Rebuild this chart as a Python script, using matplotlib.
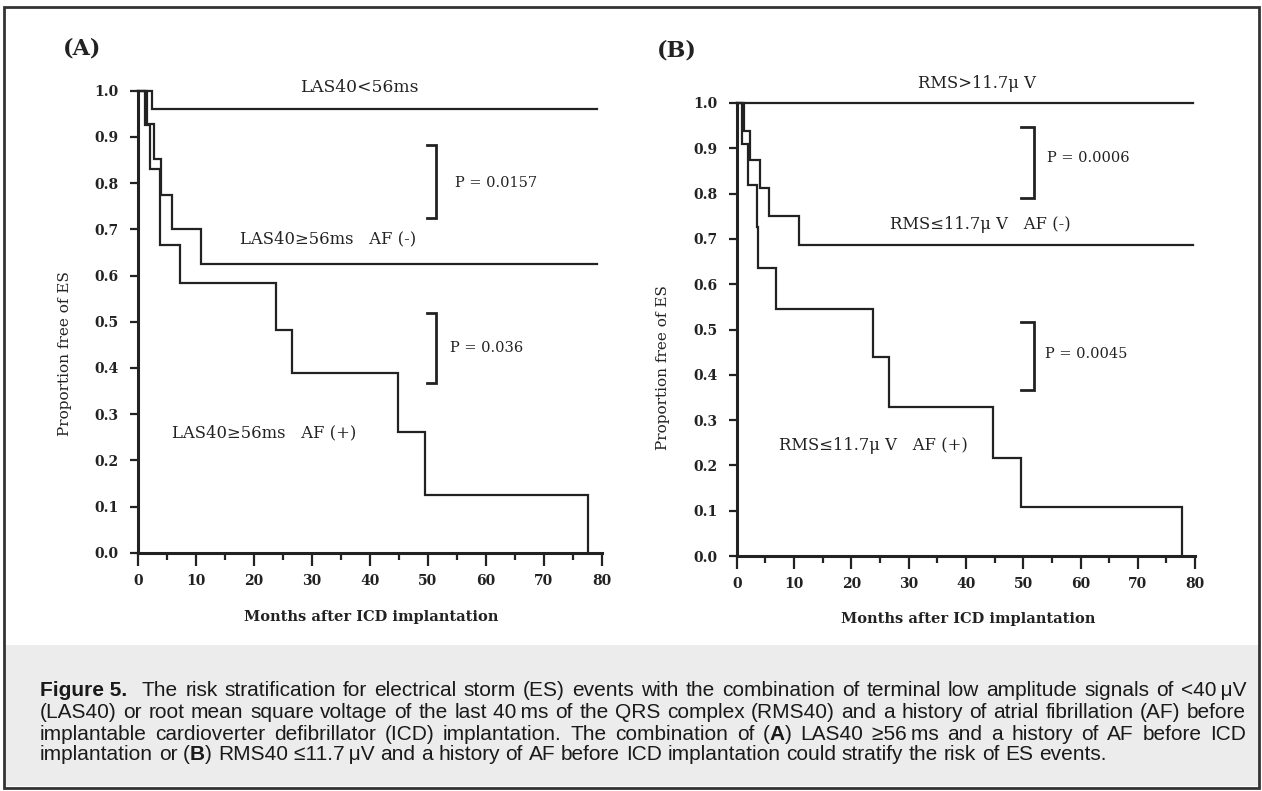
import matplotlib
matplotlib.use("Agg")
import matplotlib.pyplot as plt
from matplotlib.ticker import MultipleLocator
from matplotlib.patches import Rectangle

# ---------------- data ----------------
months_ticks = [0, 10, 20, 30, 40, 50, 60, 70, 80]
prop_ticks = [0.0, 0.1, 0.2, 0.3, 0.4, 0.5, 0.6, 0.7, 0.8, 0.9, 1.0]

# Panel A
a_low_t = [0, 2.3, 79.3]
a_low_s = [1.0, 0.96, 0.96]
a_afneg_t = [0, 1.5, 2.7, 4.0, 5.8, 10.9, 79.3]
a_afneg_s = [1.0, 0.928, 0.852, 0.775, 0.700, 0.625, 0.625]
a_afpos_t = [0, 1.15, 2.0, 3.75, 7.2, 23.7, 26.6, 44.8, 49.6, 77.6, 77.6]
a_afpos_s = [1.0, 0.925, 0.83, 0.665, 0.583, 0.483, 0.389, 0.262, 0.124, 0.0, 0.0]

# Panel B
b_high_t = [0, 79.6]
b_high_s = [1.0, 1.0]
b_afneg_t = [0, 1.2, 2.3, 4.0, 5.7, 10.9, 79.6]
b_afneg_s = [1.0, 0.9375, 0.875, 0.8125, 0.75, 0.6875, 0.6875]
b_afpos_t = [0, 0.9, 2.0, 3.5, 3.8, 6.9, 23.7, 26.5, 44.8, 49.6, 77.8, 77.8]
b_afpos_s = [1.0, 0.909, 0.818, 0.727, 0.636, 0.545, 0.439, 0.33, 0.216, 0.109, 0.0, 0.0]

a_pvalues = ["P = 0.0157", "P = 0.036"]
b_pvalues = ["P = 0.0006", "P = 0.0045"]
a_labels = ["LAS40<56ms", "LAS40\u226556ms   AF (-)", "LAS40\u226556ms   AF (+)"]
b_labels = ["RMS>11.7\u03bc V", "RMS\u226411.7\u03bc V   AF (-)", "RMS\u226411.7\u03bc V   AF (+)"]

# ---------------- figure ----------------
W, H = 1262, 791
fig = plt.figure(figsize=(W / 100, H / 100), dpi=100)
fig.patch.set_facecolor("white")

INK = "#222222"
SERIF = ["DejaVu Serif"]


def px(x, y):
    return x / W, 1 - y / H


# caption background and frame
fig.patches.append(Rectangle(px(4, 786), (1255) / W, (786 - 645) / H,
                             transform=fig.transFigure, facecolor="#ececec",
                             edgecolor="none", zorder=0))
fig.patches.append(Rectangle(px(4, 788), (1255) / W, (788 - 7) / H,
                             transform=fig.transFigure, facecolor="none",
                             edgecolor="#333333", lw=2.0, zorder=5))

axA = fig.add_axes([138.3 / W, (H - 552.7) / H, 463.2 / W, 462.0 / H])
axB = fig.add_axes([736.7 / W, (H - 556.0) / H, 458.4 / W, 453.0 / H])


def style_axes(ax):
    ax.set_xlim(0, 80)
    ax.set_ylim(0, 1.0)
    for s in ["top", "right"]:
        ax.spines[s].set_visible(False)
    for s in ["left", "bottom"]:
        ax.spines[s].set_linewidth(2.2)
        ax.spines[s].set_color(INK)
    ax.set_xticks(months_ticks)
    ax.set_xticklabels([str(m) for m in months_ticks])
    ax.xaxis.set_minor_locator(MultipleLocator(5))
    ax.set_yticks(prop_ticks)
    ax.set_yticklabels(["%.1f" % p for p in prop_ticks])
    ax.tick_params(axis="y", which="major", direction="out", length=6,
                   width=1.6, pad=8, color=INK)
    ax.tick_params(axis="x", which="major", direction="out", length=9,
                   width=1.6, pad=6, color=INK)
    ax.tick_params(axis="x", which="minor", direction="out", length=5,
                   width=1.6, color=INK)
    for lab in ax.get_xticklabels() + ax.get_yticklabels():
        lab.set_fontfamily(SERIF)
        lab.set_fontweight("bold")
        lab.set_fontsize(10)
        lab.set_color(INK)
    ax.patch.set_alpha(0)


style_axes(axA)
style_axes(axB)

LW = 1.6
for ax, curves in [
    (axA, [(a_low_t, a_low_s), (a_afneg_t, a_afneg_s), (a_afpos_t, a_afpos_s)]),
    (axB, [(b_high_t, b_high_s), (b_afneg_t, b_afneg_s), (b_afpos_t, b_afpos_s)]),
]:
    for t, s in curves:
        ax.step(t, s, where="post", color=INK, lw=LW, clip_on=False,
                solid_joinstyle="miter")


def bracket(ax, x, y0, y1, tick):
    ax.plot([x - tick, x, x, x - tick], [y1, y1, y0, y0], color=INK, lw=2.0,
            clip_on=False, solid_joinstyle="miter")


LBL = 11.8
# Panel A annotations
axA.text(27.9, 1.006, a_labels[0], fontfamily=SERIF, fontsize=12.3, color=INK,
         ha="left", va="center")
axA.text(17.6, 0.68, a_labels[1], fontfamily=SERIF, fontsize=LBL, color=INK,
         ha="left", va="center")
axA.text(5.8, 0.26, a_labels[2], fontfamily=SERIF, fontsize=LBL, color=INK,
         ha="left", va="center")
bracket(axA, 51.5, 0.724, 0.883, 1.7)
bracket(axA, 51.5, 0.367, 0.518, 1.7)
axA.text(54.7, 0.80, a_pvalues[0], fontfamily=SERIF, fontsize=10.5, color=INK,
         ha="left", va="center")
axA.text(53.8, 0.444, a_pvalues[1], fontfamily=SERIF, fontsize=10.5, color=INK,
         ha="left", va="center")

# Panel B annotations
axB.text(31.7, 1.042, b_labels[0], fontfamily=SERIF, fontsize=LBL, color=INK,
         ha="left", va="center")
axB.text(26.8, 0.731, b_labels[1], fontfamily=SERIF, fontsize=LBL, color=INK,
         ha="left", va="center")
axB.text(7.4, 0.245, b_labels[2], fontfamily=SERIF, fontsize=LBL, color=INK,
         ha="left", va="center")
bracket(axB, 51.8, 0.791, 0.948, 2.1)
bracket(axB, 51.8, 0.366, 0.517, 2.1)
axB.text(54.1, 0.878, b_pvalues[0], fontfamily=SERIF, fontsize=10.5, color=INK,
         ha="left", va="center")
axB.text(53.8, 0.446, b_pvalues[1], fontfamily=SERIF, fontsize=10.5, color=INK,
         ha="left", va="center")

# axis labels
for (x, y) in [(65, 354), (663, 368)]:
    fig.text(*px(x, y), "Proportion free of ES", rotation=90, fontfamily=SERIF,
             fontsize=11, color=INK, ha="center", va="center")
for (x, y) in [(371, 617), (968, 619)]:
    fig.text(*px(x, y), "Months after ICD implantation", fontfamily=SERIF,
             fontweight="bold", fontsize=10.5, color=INK, ha="center",
             va="center")

# panel letters
fig.text(*px(82, 48), "(A)", fontfamily=SERIF, fontweight="bold", fontsize=16,
         color=INK, ha="center", va="center")
fig.text(*px(677, 50), "(B)", fontfamily=SERIF, fontweight="bold", fontsize=16,
         color=INK, ha="center", va="center")

# ---------------- caption (justified) ----------------
CAP_FONT = ["Liberation Sans"]
CAP_BOLD_FONT = ["Liberation Sans Narrow", "Liberation Sans"]
CAP_SIZE = 15
CAP_COLOR = "#1a1a1a"
cap_lines = [
    (142, [("The risk stratification for electrical storm (ES) events with the combination of terminal low amplitude signals of <40\u2009\u03bcV", "normal")], True),
    (40, [("(LAS40) or root mean square voltage of the last 40\u2009ms of the QRS complex (RMS40) and a history of atrial fibrillation (AF) before", "normal")], True),
    (40, [("implantable cardioverter defibrillator (ICD) implantation. The combination of (", "normal"), ("A", "bold"), (") LAS40 \u226556\u2009ms and a history of AF before ICD", "normal")], True),
    (40, [("implantation or (", "normal"), ("B", "bold"), (") RMS40 \u226411.7\u2009\u03bcV and a history of AF before ICD implantation could stratify the risk of ES events.", "normal")], False),
]
cap_x1 = 1246
cap_y = [690, 712, 734, 755]

fig.text(*px(40, cap_y[0]), "Figure 5.", fontfamily=CAP_BOLD_FONT,
         fontsize=CAP_SIZE, fontweight="bold", color=CAP_COLOR,
         ha="left", va="center")

fig.canvas.draw()
renderer = fig.canvas.get_renderer()


def text_width(s, weight):
    t = fig.text(0, 0, s, fontfamily=CAP_FONT, fontsize=CAP_SIZE,
                 fontweight=weight)
    w = t.get_window_extent(renderer).width
    t.remove()
    return w


space_w = text_width("a a", "normal") - text_width("aa", "normal")

for (x0, segs, justify), y in zip(cap_lines, cap_y):
    words = []
    for s, wgt in segs:
        parts = s.split(" ")
        for i, p in enumerate(parts):
            if p == "":
                continue
            gap = 1 if (i > 0 and words) else 0
            words.append([p, wgt, gap])
    widths = [text_width(p, wgt) for p, wgt, _ in words]
    ngaps = sum(g for _, _, g in words)
    total = sum(widths) + ngaps * space_w
    gap_w = space_w
    if justify and ngaps > 0:
        gap_w = max(space_w * 0.6, space_w + (cap_x1 - x0 - total) / ngaps)
    x = x0
    for (p, wgt, g), w in zip(words, widths):
        x += g * gap_w
        fig.text(x / W, 1 - y / H, p, fontfamily=CAP_FONT, fontsize=CAP_SIZE,
                 fontweight=wgt, color=CAP_COLOR, ha="left", va="center")
        x += w

fig.savefig("out.png", dpi=100, facecolor="white")
